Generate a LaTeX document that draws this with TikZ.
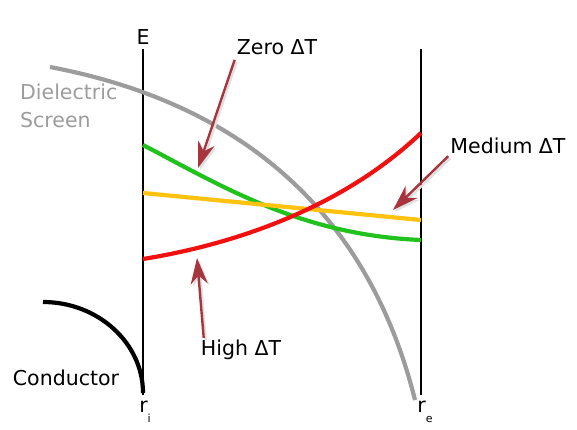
\documentclass[tikz,border=0pt]{standalone}
\usepackage{fontspec}
\setmainfont{DejaVu Sans}
\usetikzlibrary{arrows.meta,positioning}
\definecolor{screengray}{HTML}{9C9C9C}
\definecolor{arrowred}{HTML}{A8343E}
\definecolor{hotred}{HTML}{F01010}
\definecolor{midgreen}{HTML}{22C21E}
\definecolor{warmyellow}{HTML}{FFC20E}
\newcommand{\rsub}[1]{r\raisebox{-0.9ex}{\fontsize{11}{11}\selectfont #1}}

\begin{document}
\begin{tikzpicture}[x=1pt,y=-1pt,
  every node/.style={font=\fontsize{20.5}{28}\selectfont, inner sep=2pt},
  wall/.style={line width=2.5pt},
  curve/.style={line width=4.2pt},
  callout/.style={draw=arrowred, line width=2.4pt, -{Stealth[length=26pt,width=17pt]},
    preaction={draw=black!12, line width=2.4pt, transform canvas={shift={(2pt,-2pt)}}}}
]
\useasboundingbox (0,0) rectangle (577,429);
\clip (0,0) rectangle (577,429);

% walls of the insulation
\coordinate (ti) at (143,49);
\coordinate (bi) at (143,395);
\coordinate (te) at (421,49);
\coordinate (be) at (421,395);
\draw[wall] (ti) -- (bi);
\draw[wall] (te) -- (be);
\node (E) [above=2pt of ti] {E};
\node (ri) at (145,412) {\rsub{i}};
\node (re) at (425,412) {\rsub{e}};

% conductor and screen
\draw[curve, black] (43,302) .. controls (98,302) and (143,343) .. (143,393);
\node (cond) at (66,378) {Conductor};
\draw[curve, screengray] (50,67) .. controls (250,105) and (370,220) .. (415,400);
\node (screen) [anchor=north west, align=left, text=screengray, inner sep=0pt] at (20,84) {Dielectric\\Screen};

% stress curves
\draw[curve, midgreen] (143,145) .. controls (220,185) and (300,235) .. (421,240);
\draw[curve, warmyellow] (143,193) -- (421,220);
\draw[curve, hotred] (143,259) .. controls (230,245) and (340,210) .. (421,133);

% callouts
\node (zero) at (277,47) {Zero ΔT};
\node (medium) at (508,146) {Medium ΔT};
\node (high) at (241,350) {High ΔT};
\coordinate (zerotip) at (198,168);
\coordinate (mediumtip) at (393,210);
\coordinate (hightip) at (197,258);
\draw[callout] ([yshift=-3pt]zero.south west) -- (zerotip);
\draw[callout] (medium.south west) -- (mediumtip);
\draw[callout] ([xshift=5pt]high.north west) -- (hightip);
\end{tikzpicture}
\end{document}
